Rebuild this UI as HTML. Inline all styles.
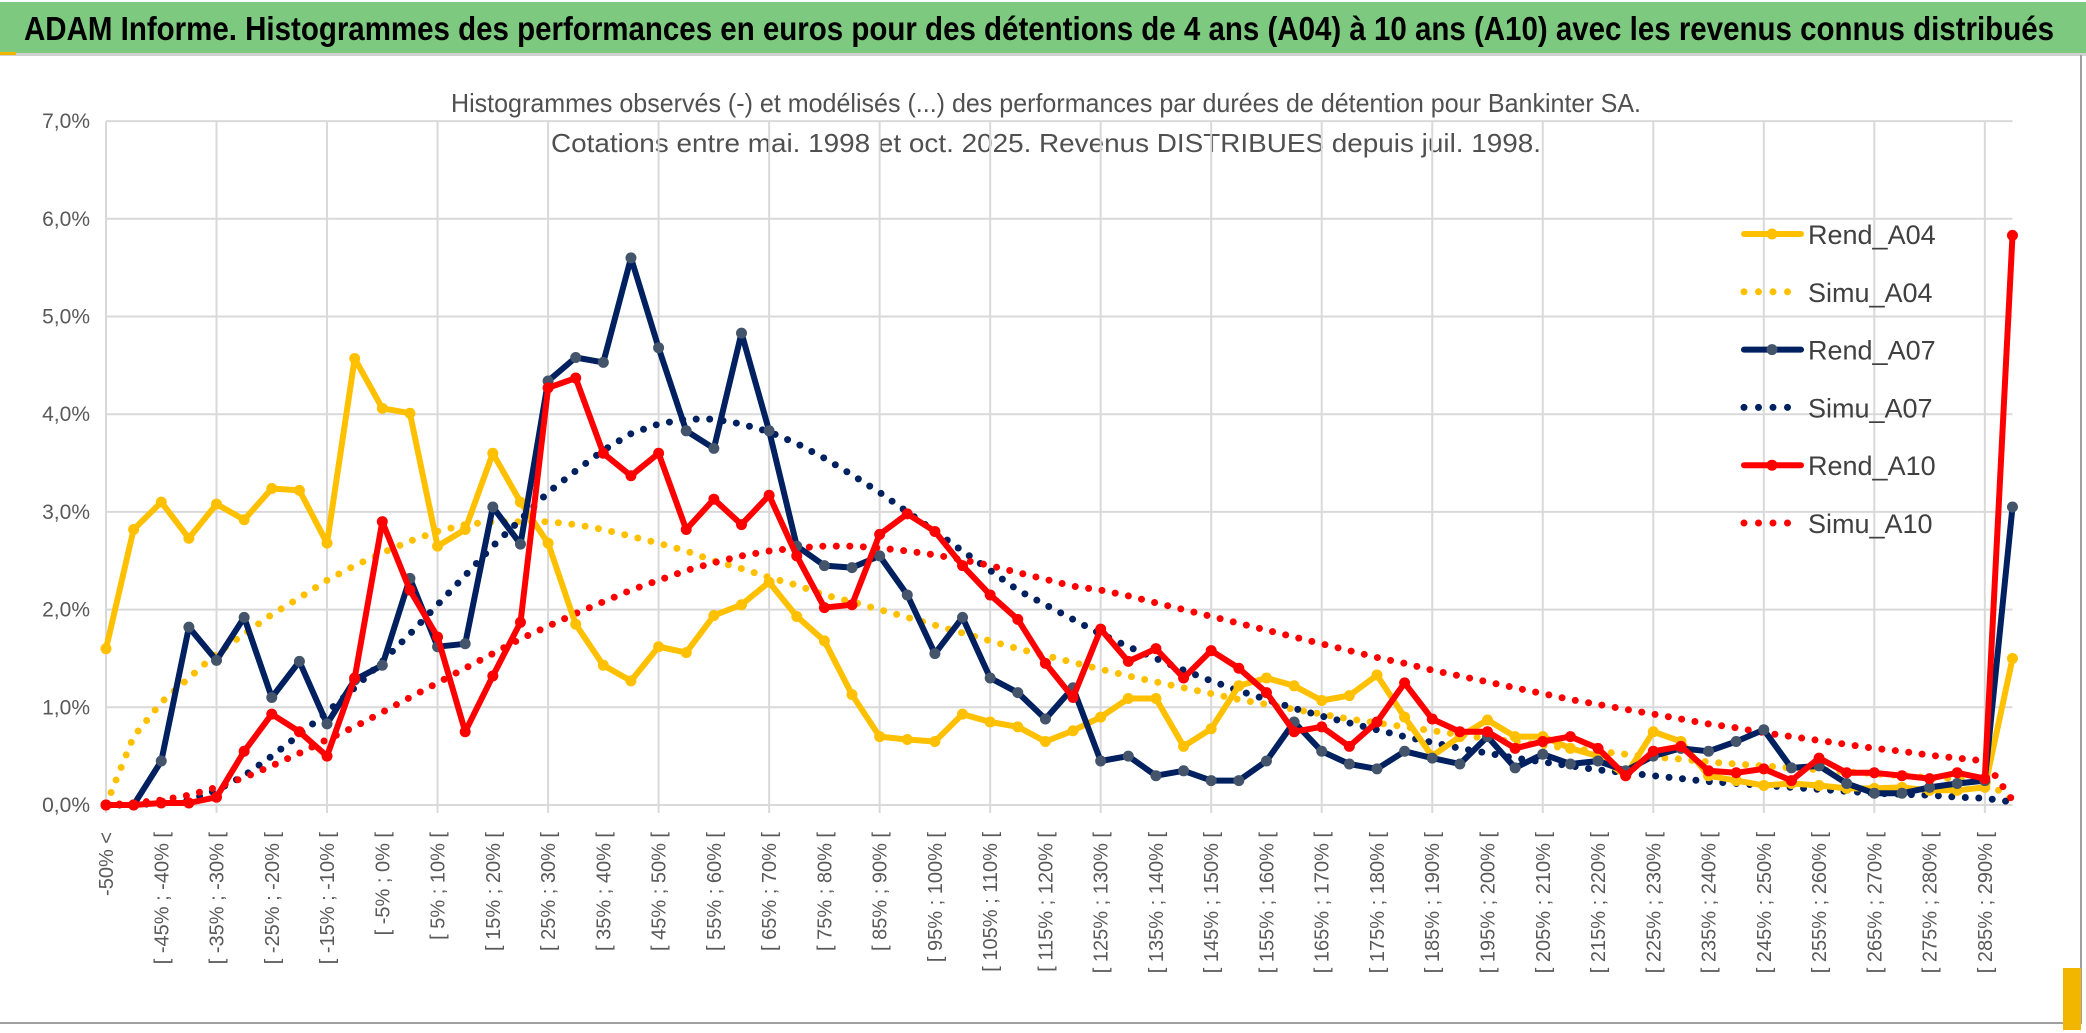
<!DOCTYPE html>
<html><head><meta charset="utf-8"><style>
html,body{margin:0;padding:0;background:#fff;}
svg{display:block;font-family:"Liberation Sans",sans-serif;}
</style></head><body>
<svg id="chart" width="2086" height="1033" viewBox="0 0 2086 1033" xmlns="http://www.w3.org/2000/svg">
<rect x="0" y="2" width="2086" height="51" fill="#7dc97f"/>
<line x1="0" y1="54.5" x2="2086" y2="54.5" stroke="#d0d0d0" stroke-width="3"/>
<rect x="0" y="52" width="16" height="3" fill="#f2b600"/>
<text x="24" y="40" font-size="33" font-weight="bold" fill="#000" textLength="2030" lengthAdjust="spacingAndGlyphs">ADAM Informe. Histogrammes des performances en euros pour des détentions de 4 ans (A04) à 10 ans (A10) avec les revenus connus distribués</text>
<text x="1046" y="112" font-size="26" fill="#505050" text-anchor="middle" textLength="1190" lengthAdjust="spacingAndGlyphs">Histogrammes observés (-) et modélisés (...) des performances par durées de détention pour Bankinter SA.</text>
<text x="1046" y="152" font-size="26" fill="#505050" text-anchor="middle" textLength="990" lengthAdjust="spacingAndGlyphs">Cotations entre mai. 1998 et oct. 2025. Revenus DISTRIBUES depuis juil. 1998.</text>
<line x1="2081" y1="55" x2="2081" y2="1024" stroke="#a0a0a0" stroke-width="2"/>
<line x1="0" y1="1023" x2="2082" y2="1023" stroke="#a0a0a0" stroke-width="2"/>
<rect x="2063" y="968" width="18" height="62" fill="#f2b600"/>
<g id="grid"></g>
<g id="series"></g>
<g id="axes"></g>
<g id="legend"></g>
</svg>
<script>
const categories = [];
for (let k = 0; k < 70; k++) { categories.push(k === 0 ? "-50% <" : "[ " + (-55 + 5 * k) + "% ; " + (-50 + 5 * k) + "% ["); }
const yTicks = [0,1,2,3,4,5,6,7];
const yTickLabels = ["0,0%","1,0%","2,0%","3,0%","4,0%","5,0%","6,0%","7,0%"];
const rendA04 = [1.6,2.82,3.1,2.73,3.08,2.92,3.24,3.22,2.68,4.57,4.06,4.01,2.65,2.82,3.6,3.1,2.68,1.85,1.43,1.27,1.62,1.56,1.94,2.05,2.28,1.93,1.68,1.13,0.7,0.67,0.65,0.93,0.85,0.8,0.65,0.76,0.9,1.09,1.09,0.6,0.78,1.22,1.3,1.22,1.07,1.12,1.33,0.9,0.5,0.7,0.87,0.7,0.7,0.58,0.5,0.3,0.75,0.65,0.3,0.25,0.2,0.22,0.2,0.17,0.17,0.18,0.15,0.15,0.18,1.5];
const simuA04 = [0,0.7,1.05,1.3,1.55,1.75,1.95,2.12,2.3,2.45,2.58,2.7,2.8,2.87,2.9,2.9,2.9,2.87,2.82,2.75,2.68,2.6,2.5,2.42,2.33,2.25,2.15,2.08,2.0,1.92,1.84,1.76,1.68,1.6,1.53,1.46,1.39,1.32,1.26,1.2,1.14,1.08,1.03,0.98,0.93,0.88,0.84,0.8,0.76,0.72,0.68,0.65,0.61,0.58,0.55,0.52,0.49,0.47,0.44,0.42,0.4,0.38,0.36,0.34,0.32,0.3,0.28,0.27,0.25,0.05];
const rendA07 = [0,0,0.45,1.82,1.48,1.92,1.1,1.47,0.83,1.28,1.43,2.32,1.62,1.65,3.05,2.67,4.34,4.58,4.53,5.6,4.68,3.83,3.65,4.83,3.83,2.65,2.45,2.43,2.55,2.15,1.55,1.92,1.3,1.15,0.88,1.2,0.45,0.5,0.3,0.35,0.25,0.25,0.45,0.85,0.55,0.42,0.37,0.55,0.48,0.42,0.7,0.38,0.52,0.42,0.45,0.35,0.5,0.58,0.55,0.65,0.77,0.38,0.4,0.22,0.12,0.12,0.18,0.22,0.25,3.05];
const simuA07 = [0,0,0.02,0.05,0.15,0.3,0.5,0.72,0.95,1.2,1.47,1.75,2.05,2.35,2.65,2.92,3.2,3.42,3.63,3.8,3.9,3.95,3.95,3.9,3.82,3.7,3.55,3.38,3.2,3.0,2.8,2.6,2.4,2.2,2.05,1.9,1.75,1.62,1.5,1.38,1.27,1.17,1.08,0.99,0.91,0.84,0.77,0.7,0.64,0.58,0.53,0.48,0.44,0.4,0.36,0.33,0.3,0.27,0.24,0.22,0.2,0.18,0.16,0.14,0.12,0.11,0.1,0.08,0.07,0.03];
const rendA10 = [0,0,0.02,0.02,0.08,0.55,0.93,0.75,0.5,1.3,2.9,2.2,1.72,0.75,1.32,1.87,4.27,4.37,3.6,3.37,3.6,2.82,3.13,2.87,3.17,2.55,2.02,2.05,2.77,2.98,2.8,2.45,2.15,1.9,1.45,1.1,1.8,1.47,1.6,1.3,1.58,1.4,1.15,0.75,0.8,0.6,0.85,1.25,0.88,0.75,0.75,0.58,0.65,0.7,0.58,0.3,0.55,0.6,0.35,0.33,0.37,0.25,0.48,0.33,0.33,0.3,0.27,0.33,0.27,5.83];
const simuA10 = [0,0.02,0.05,0.1,0.18,0.28,0.4,0.53,0.67,0.8,0.95,1.1,1.25,1.4,1.55,1.7,1.83,1.96,2.08,2.2,2.3,2.4,2.48,2.55,2.6,2.63,2.65,2.65,2.63,2.6,2.56,2.51,2.45,2.38,2.31,2.24,2.2,2.14,2.07,2.0,1.93,1.86,1.79,1.72,1.65,1.58,1.51,1.45,1.38,1.32,1.26,1.2,1.14,1.08,1.03,0.98,0.93,0.88,0.83,0.79,0.74,0.7,0.66,0.62,0.58,0.55,0.51,0.48,0.45,0.05];
const seriesNames = ["Rend_A04","Simu_A04","Rend_A07","Simu_A07","Rend_A10","Simu_A10"];

const NS = "http://www.w3.org/2000/svg";
const X0 = 106, DX = 27.63, Y0 = 805, DY = 97.7;
function xs(i){ return X0 + i * DX; }
function ys(v){ return Y0 - v * DY; }
function mk(tag, attrs, parent){ const e = document.createElementNS(NS, tag); for (const k in attrs) e.setAttribute(k, attrs[k]); parent.appendChild(e); return e; }

const grid = document.getElementById("grid");
yTicks.forEach(function(t, j){
  const l = mk("line", {x1: X0, x2: xs(categories.length - 1), y1: ys(t), y2: ys(t), stroke: "#d9d9d9", "stroke-width": 2}, grid);
  
  
});
for (let i = 0; i < categories.length; i += 4) {
  const l = mk("line", {x1: xs(i), x2: xs(i), y1: ys(7), y2: ys(0) + 8, stroke: "#d9d9d9", "stroke-width": 2}, grid);
  
  
}

const axes = document.getElementById("axes");
yTicks.forEach(function(t, j){
  const tx = mk("text", {x: 90, y: ys(t) + 7, "font-size": 21, fill: "#595959", "text-anchor": "end"}, axes);
  tx.textContent = yTickLabels[j];
  
  
});
categories.forEach(function(c, i){
  if (i % 2 !== 0) return;
  const x = xs(i) + 7, y = 832;
  const tx = mk("text", {x: x, y: y, "font-size": 20, fill: "#595959", "text-anchor": "end", transform: "rotate(-90 " + x + " " + y + ")"}, axes);
  tx.textContent = c;
  
  
});

const sg = document.getElementById("series");
function pts(arr){ return arr.map(function(v, i){ return xs(i).toFixed(1) + "," + ys(v).toFixed(1); }).join(" "); }
function dotted(arr, color, name){
  const p = mk("polyline", {points: pts(arr), fill: "none", stroke: color, "stroke-width": 7, "stroke-linecap": "round", "stroke-dasharray": "0 13.5"}, sg);
  
  
}
function solid(arr, color, mcolor, name){
  const g = mk("g", {}, sg);
  
  
  mk("polyline", {points: pts(arr), fill: "none", stroke: color, "stroke-width": 6, "stroke-linejoin": "round"}, g);
  arr.forEach(function(v, i){
    const c = mk("circle", {cx: xs(i), cy: ys(v), r: 5.5, fill: mcolor}, g);
    
    
  });
}
dotted(simuA04, "#ffc000", "simu-a04-line");
dotted(simuA07, "#002060", "simu-a07-line");
dotted(simuA10, "#ff0000", "simu-a10-line");
solid(rendA04, "#ffc000", "#ffc000", "rend-a04-line");
solid(rendA07, "#002060", "#44546a", "rend-a07-line");
solid(rendA10, "#ff0000", "#ff0000", "rend-a10-line");

const lg = document.getElementById("legend");
const legColors = ["#ffc000","#ffc000","#002060","#002060","#ff0000","#ff0000"];
const legMarker = ["#ffc000",null,"#44546a",null,"#ff0000",null];
seriesNames.forEach(function(n, k){
  const y = 234 + k * 57.8;
  const g = mk("g", {}, lg);
  
  
  if (legMarker[k]) {
    mk("line", {x1: 1744, x2: 1801, y1: y, y2: y, stroke: legColors[k], "stroke-width": 6, "stroke-linecap": "round"}, g);
    mk("circle", {cx: 1772, cy: y, r: 5.5, fill: legMarker[k]}, g);
  } else {
    mk("line", {x1: 1744, x2: 1801, y1: y, y2: y, stroke: legColors[k], "stroke-width": 7, "stroke-linecap": "round", "stroke-dasharray": "0 14.5"}, g);
  }
  const t = mk("text", {x: 1808, y: y + 10, "font-size": 27, fill: "#404040"}, g);
  t.textContent = n;
});
</script>
</body></html>
